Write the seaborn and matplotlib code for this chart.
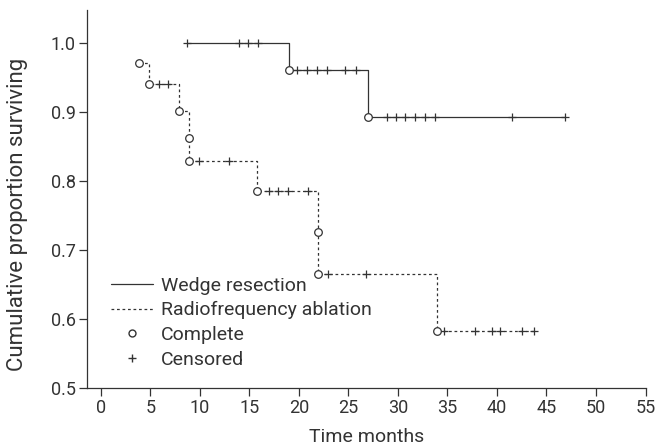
import numpy as np
import pandas as pd
import matplotlib
matplotlib.use("Agg")
import matplotlib.pyplot as plt
from matplotlib.lines import Line2D
import seaborn as sns

# ---- data ----
# Wedge resection
wedge_start = 8.7
wedge_event_times = [19.0, 27.0]
wedge_event_surv = [0.961, 0.893]
wedge_end = 46.9
wedge_censor_times = [8.7, 13.9, 14.9, 15.9, 19.8, 20.8, 21.8, 22.8, 24.7, 25.8,
                      28.9, 29.8, 30.7, 31.7, 32.7, 33.7, 41.5, 46.9]

# Radiofrequency ablation
rfa_event_times = [3.9, 4.9, 7.9, 8.9, 8.9, 15.8, 21.9, 21.9, 33.9]
rfa_event_surv = [0.971, 0.941, 0.902, 0.863, 0.829, 0.785, 0.726, 0.665, 0.582]
rfa_end = 43.8
rfa_censor_times = [5.9, 6.8, 9.9, 12.9, 17.0, 17.9, 18.9, 20.9, 22.9, 26.8,
                    34.7, 37.8, 39.5, 40.3, 42.5, 43.7]

x_ticks = [0, 5, 10, 15, 20, 25, 30, 35, 40, 45, 50, 55]
y_ticks = [0.5, 0.6, 0.7, 0.8, 0.9, 1.0]


def step_path(start_t, start_s, ev_t, ev_s, end_t):
    ts, ss = [start_t], [start_s]
    for t, s in zip(ev_t, ev_s):
        ts += [t, t]
        ss += [ss[-1], s]
    ts.append(end_t)
    ss.append(ss[-1])
    return pd.DataFrame({"t": ts, "s": ss})


def surv_at(t, start_s, ev_t, ev_s):
    s = start_s
    for et, es in zip(ev_t, ev_s):
        if et <= t:
            s = es
    return s


sns.set_style("ticks")
plt.rcParams["font.family"] = ["Roboto", "DejaVu Sans"]
ink = "#333333"

fig = plt.figure(figsize=(6.56, 4.47), dpi=100)
ax = fig.add_axes([87 / 656, 1 - 388 / 447, 559 / 656, 378 / 447])

wedge_df = step_path(wedge_start, 1.0, wedge_event_times, wedge_event_surv, wedge_end)
rfa_df = step_path(rfa_event_times[0], rfa_event_surv[0], rfa_event_times[1:],
                   rfa_event_surv[1:], rfa_end)

sns.lineplot(data=wedge_df, x="t", y="s", sort=False, estimator=None, ax=ax,
             color=ink, linewidth=0.9, linestyle="-")
sns.lineplot(data=rfa_df, x="t", y="s", sort=False, estimator=None, ax=ax,
             color=ink, linewidth=0.9, linestyle=(0, (2.2, 2.2)))

# censor marks
wc = pd.DataFrame({"t": wedge_censor_times,
                   "s": [surv_at(t, 1.0, wedge_event_times, wedge_event_surv)
                         for t in wedge_censor_times]})
rc = pd.DataFrame({"t": rfa_censor_times,
                   "s": [surv_at(t, rfa_event_surv[0], rfa_event_times, rfa_event_surv)
                         for t in rfa_censor_times]})
cens = pd.concat([wc, rc])
sns.scatterplot(data=cens, x="t", y="s", marker="+", s=36, color=ink,
                linewidth=0.9, ax=ax, zorder=4)

# event circles
ev = pd.DataFrame({"t": wedge_event_times + rfa_event_times,
                   "s": wedge_event_surv + rfa_event_surv})
sns.scatterplot(data=ev, x="t", y="s", marker="o", s=30, facecolor="white",
                edgecolor=ink, linewidth=0.9, ax=ax, zorder=5)

ax.set_xlim(-1.4, 55.05)
ax.set_ylim(0.5, 1.048)
ax.set_xticks(x_ticks)
ax.set_yticks(y_ticks)
ax.set_yticklabels([f"{v:.1f}" for v in y_ticks])
ax.set_xlabel("Time months", fontsize=14, color=ink)
ax.set_ylabel("Cumulative proportion surviving", fontsize=16, color=ink)
ax.xaxis.set_label_coords(0.5, -0.105)
ax.yaxis.set_label_coords(-0.105, 0.46)
ax.tick_params(axis="both", labelsize=13, colors=ink, length=6, width=0.9, pad=2)
sns.despine(ax=ax)
for sp in ["left", "bottom"]:
    ax.spines[sp].set_color(ink)
    ax.spines[sp].set_linewidth(0.9)

handles = [
    Line2D([], [], color=ink, linewidth=0.9, linestyle="-"),
    Line2D([], [], color=ink, linewidth=0.9, linestyle=(0, (2.2, 2.2))),
    Line2D([], [], color=ink, marker="o", markersize=5, markerfacecolor="white",
           linestyle="none"),
    Line2D([], [], color=ink, marker="+", markersize=6, linestyle="none"),
]
labels = ["Wedge resection", "Radiofrequency ablation", "Complete", "Censored"]
ax.legend(handles, labels, loc="lower left", bbox_to_anchor=(0.043, 0.05),
          frameon=False, fontsize=14, handlelength=2.15, handletextpad=0.4,
          labelspacing=0.35, borderaxespad=0, borderpad=0, labelcolor=ink)

fig.savefig("out.png", dpi=100)
